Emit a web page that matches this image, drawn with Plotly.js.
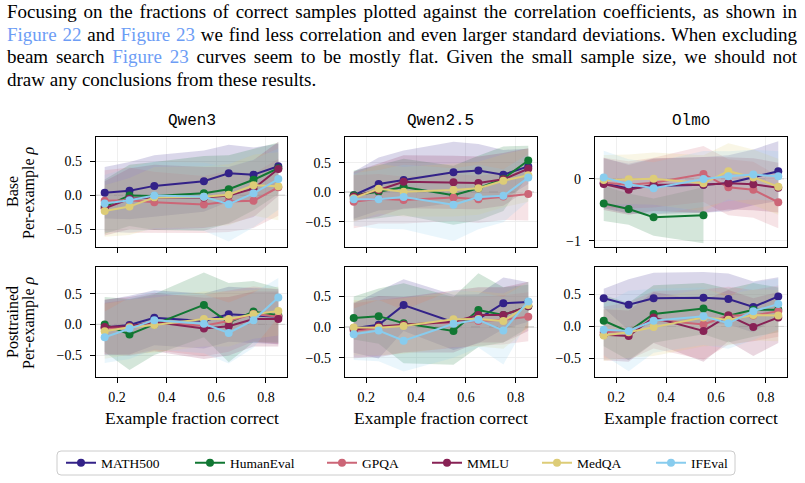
<!DOCTYPE html>
<html><head><meta charset="utf-8">
<script src="https://cdn.plot.ly/plotly-3.0.1.min.js"></script>
<style>
html,body{margin:0;padding:0;background:#fff;}
#wrap{position:relative;width:805px;height:483px;overflow:hidden;background:#fff;}
#chart{position:absolute;left:0;top:0;width:805px;height:483px;}
#para{position:absolute;left:7px;top:1px;width:790px;font-family:"Liberation Serif","Times New Roman",serif;font-size:19px;line-height:22.5px;color:#000;z-index:5;}
#para div{text-align:justify;text-align-last:justify;}
#para div.last{text-align-last:left;}
.ref{color:#6d9df5;}
</style></head>
<body>
<div id="wrap">
<div id="chart"></div>
<div id="para">
<div>Focusing on the fractions of correct samples plotted against the correlation coefficients, as shown in</div>
<div><span class="ref">Figure 22</span> and <span class="ref">Figure 23</span> we find less correlation and even larger standard deviations. When excluding</div>
<div>beam search <span class="ref">Figure 23</span> curves seem to be mostly flat. Given the small sample size, we should not</div>
<div class="last">draw any conclusions from these results.</div>
</div>
</div>
<script>
const fractions = [0.15, 0.25, 0.35, 0.55, 0.65, 0.75, 0.85];
const benchmarks = ['MATH500', 'HumanEval', 'GPQA', 'MMLU', 'MedQA', 'IFEval'];
const colors = ['#332288', '#117733', '#CC6677', '#882255', '#DDCC77', '#88CCEE'];
const models = ['Qwen3', 'Qwen2.5', 'Olmo'];
const stages = ['Base', 'Posttrained'];

// mean per-example rho (rows follow benchmarks order)
const qwen3BaseMean = [
  [0.04, 0.07, 0.14, 0.21, 0.325, 0.305, 0.43],
  [-0.165, 0.0, -0.01, 0.03, 0.09, 0.23, 0.40],
  [-0.08, -0.07, -0.10, -0.135, -0.09, -0.08, 0.12],
  [-0.19, -0.05, -0.03, -0.03, 0.0, 0.10, 0.39],
  [-0.23, -0.165, -0.03, -0.02, 0.01, 0.15, 0.135],
  [-0.12, -0.07, 0.0, -0.02, -0.13, 0.03, 0.24]
];
const qwen25BaseMean = [
  [-0.05, 0.14, 0.21, 0.34, 0.37, 0.30, 0.44],
  [-0.05, 0.01, 0.09, -0.05, 0.07, 0.23, 0.54],
  [-0.16, -0.11, -0.13, -0.09, -0.12, -0.07, -0.03],
  [-0.07, 0.04, 0.18, 0.17, 0.16, 0.22, 0.40],
  [-0.10, 0.06, 0.01, 0.04, 0.07, 0.195, 0.29],
  [-0.12, -0.12, -0.08, -0.21, -0.08, -0.06, 0.25]
];
const olmoBaseMean = [
  [-0.075, -0.16, -0.12, -0.10, -0.075, 0.02, 0.12],
  [-0.40, -0.49, -0.62, -0.59],
  [-0.065, -0.10, -0.065, 0.075, -0.14, -0.18, -0.38],
  [-0.085, -0.18, -0.10, -0.10, -0.075, -0.09, -0.145],
  [-0.02, -0.01, 0.0, -0.075, 0.12, 0.02, -0.13],
  [0.02, -0.09, -0.155, -0.005, 0.04, 0.065, 0.04]
];
const qwen3PostMean = [
  [-0.05, -0.01, 0.11, 0.055, 0.165, 0.14, 0.125],
  [0.0, -0.165, 0.0, 0.32, 0.03, 0.21, 0.15],
  [-0.065, -0.04, 0.03, -0.02, 0.055, 0.17, 0.125],
  [-0.04, -0.03, 0.04, -0.065, -0.03, 0.09, 0.09],
  [-0.11, -0.045, -0.01, 0.09, 0.09, 0.165, 0.22],
  [-0.21, -0.065, 0.07, 0.01, -0.14, 0.07, 0.44]
];
const qwen25PostMean = [
  [-0.015, 0.04, 0.36, 0.08, 0.135, 0.39, 0.41],
  [0.15, 0.18, 0.065, -0.06, 0.28, 0.20, 0.34],
  [-0.06, -0.015, 0.04, 0.08, 0.10, 0.12, 0.17],
  [-0.04, 0.01, 0.04, 0.09, 0.20, 0.20, 0.34],
  [-0.005, -0.01, 0.02, 0.13, 0.135, 0.10, 0.36],
  [-0.115, -0.055, -0.22, 0.055, 0.12, -0.055, 0.42]
];
const olmoPostMean = [
  [0.44, 0.34, 0.44, 0.45, 0.43, 0.305, 0.47],
  [0.09, -0.08, 0.195, 0.28, 0.17, 0.26, 0.26],
  [-0.09, -0.07, 0.105, 0.03, 0.17, 0.17, 0.24],
  [-0.13, -0.15, 0.14, -0.07, 0.17, -0.01, 0.14],
  [-0.14, -0.09, -0.01, 0.14, 0.105, 0.18, 0.17],
  [-0.05, -0.07, 0.09, 0.16, 0.05, 0.24, 0.35]
];

// standard deviation per point (rows follow benchmarks order)
const qwen3BaseStd = [
  [0.38, 0.42, 0.45, 0.45, 0.42, 0.40, 0.33],
  [0.40, 0.45, 0.50, 0.55, 0.50, 0.45, 0.38],
  [0.45, 0.48, 0.45, 0.42, 0.45, 0.40, 0.42],
  [0.40, 0.45, 0.48, 0.45, 0.42, 0.42, 0.40],
  [0.38, 0.42, 0.45, 0.45, 0.45, 0.45, 0.50],
  [0.42, 0.48, 0.50, 0.50, 0.55, 0.50, 0.45]
];
const qwen25BaseStd = [
  [0.40, 0.45, 0.50, 0.52, 0.45, 0.42, 0.30],
  [0.42, 0.45, 0.48, 0.50, 0.55, 0.55, 0.25],
  [0.45, 0.42, 0.40, 0.40, 0.40, 0.40, 0.45],
  [0.42, 0.45, 0.45, 0.45, 0.45, 0.45, 0.35],
  [0.40, 0.42, 0.42, 0.45, 0.45, 0.45, 0.45],
  [0.45, 0.50, 0.55, 0.62, 0.55, 0.45, 0.40]
];
const olmoBaseStd = [
  [0.40, 0.40, 0.45, 0.45, 0.45, 0.45, 0.48],
  [0.28, 0.25, 0.30, 0.45],
  [0.40, 0.38, 0.40, 0.45, 0.45, 0.45, 0.42],
  [0.42, 0.40, 0.42, 0.45, 0.42, 0.42, 0.40],
  [0.40, 0.40, 0.42, 0.45, 0.45, 0.45, 0.45],
  [0.43, 0.40, 0.42, 0.45, 0.40, 0.40, 0.40]
];
const qwen3PostStd = [
  [0.45, 0.48, 0.45, 0.45, 0.45, 0.45, 0.45],
  [0.45, 0.58, 0.50, 0.53, 0.65, 0.50, 0.45],
  [0.42, 0.45, 0.45, 0.50, 0.50, 0.45, 0.45],
  [0.45, 0.48, 0.48, 0.50, 0.48, 0.45, 0.45],
  [0.45, 0.45, 0.45, 0.45, 0.45, 0.40, 0.40],
  [0.42, 0.50, 0.48, 0.48, 0.50, 0.45, 0.32]
];
const qwen25PostStd = [
  [0.40, 0.55, 0.42, 0.45, 0.40, 0.42, 0.32],
  [0.35, 0.45, 0.65, 0.55, 0.60, 0.45, 0.35],
  [0.45, 0.45, 0.45, 0.42, 0.40, 0.40, 0.40],
  [0.45, 0.50, 0.45, 0.50, 0.45, 0.45, 0.40],
  [0.45, 0.45, 0.45, 0.45, 0.45, 0.45, 0.38],
  [0.42, 0.50, 0.50, 0.55, 0.45, 0.55, 0.32]
];
const olmoPostStd = [
  [0.15, 0.40, 0.40, 0.40, 0.40, 0.40, 0.30],
  [0.40, 0.45, 0.45, 0.40, 0.42, 0.42, 0.35],
  [0.40, 0.45, 0.45, 0.55, 0.45, 0.40, 0.40],
  [0.40, 0.40, 0.40, 0.48, 0.40, 0.45, 0.40],
  [0.40, 0.40, 0.45, 0.45, 0.40, 0.40, 0.40],
  [0.40, 0.63, 0.50, 0.45, 0.40, 0.45, 0.40]
];

const meanGrid = [[qwen3BaseMean, qwen25BaseMean, olmoBaseMean], [qwen3PostMean, qwen25PostMean, olmoPostMean]];
const stdGrid = [[qwen3BaseStd, qwen25BaseStd, olmoBaseStd], [qwen3PostStd, qwen25PostStd, olmoPostStd]];

const W = 805, H = 483;
const colPx = [[96, 287], [345, 537], [595, 787]];
const rowPx = [[137, 247], [267, 377]];
const yRanges = [[[-0.76, 0.86], [-0.93, 0.94], [-1.10, 0.67]], [[-0.86, 0.94], [-0.81, 0.98], [-0.79, 0.93]]];

function rgba(hex, a) {
  const n = parseInt(hex.slice(1), 16);
  return 'rgba(' + ((n >> 16) & 255) + ',' + ((n >> 8) & 255) + ',' + (n & 255) + ',' + a + ')';
}

const serif = 'Liberation Serif, Times New Roman, serif';
const bands = [], lines = [];
const layout = {
  width: W, height: H,
  margin: {l: 0, r: 0, t: 0, b: 0},
  paper_bgcolor: '#fff', plot_bgcolor: '#fff',
  showlegend: true,
  annotations: [], shapes: []
};

for (let r = 0; r < 2; r++) {
  for (let c = 0; c < 3; c++) {
    const k = r * 3 + c + 1;
    const xa = k === 1 ? 'x' : 'x' + k;
    const ya = k === 1 ? 'y' : 'y' + k;
    const means = meanGrid[r][c], stds = stdGrid[r][c];
    for (let i = 0; i < benchmarks.length; i++) {
      const m = means[i], s = stds[i];
      const xs = fractions.slice(0, m.length);
      const upper = m.map((v, j) => v + s[j]);
      const lower = m.map((v, j) => v - s[j]);
      bands.push({
        type: 'scatter', mode: 'lines', xaxis: xa, yaxis: ya,
        x: xs.concat(xs.slice().reverse()),
        y: upper.concat(lower.slice().reverse()),
        fill: 'toself', fillcolor: rgba(colors[i], 0.18),
        line: {width: 0, color: rgba(colors[i], 0)},
        hoverinfo: 'skip', showlegend: false
      });
      lines.push({
        type: 'scatter', mode: 'lines+markers', xaxis: xa, yaxis: ya,
        x: xs, y: m, name: benchmarks[i],
        line: {color: colors[i], width: 2},
        marker: {color: colors[i], size: 8},
        showlegend: k === 1,
        legend: i === 0 ? 'legend' : 'legend' + (i + 1)
      });
    }
    const axBase = {
      showline: true, mirror: true, linecolor: '#000', linewidth: 1.2,
      ticks: 'outside', ticklen: 5, tickwidth: 1, tickcolor: '#000',
      showgrid: true, gridcolor: '#ebebeb', gridwidth: 0.8, zeroline: false,
      tickfont: {family: serif, size: 14, color: '#000'}
    };
    layout['xaxis' + (k === 1 ? '' : k)] = Object.assign({}, axBase, {
      domain: [colPx[c][0] / W, colPx[c][1] / W],
      range: [0.115, 0.885], anchor: ya,
      tickvals: [0.2, 0.4, 0.6, 0.8], tickformat: '.1f',
      showticklabels: r === 1, ticklabelstandoff: 2
    });
    const yr = yRanges[r][c];
    layout['yaxis' + (k === 1 ? '' : k)] = Object.assign({}, axBase, {
      domain: [1 - rowPx[r][1] / H, 1 - rowPx[r][0] / H],
      range: yr, anchor: xa,
      dtick: (r === 0 && c === 2) ? 1 : 0.5,
      tickformat: (r === 0 && c === 2) ? 'd' : '.1f',
      ticklabelstandoff: 5
    });
    layout.shapes.push({
      type: 'line', xref: xa + ' domain', yref: ya, x0: 0, x1: 1, y0: 0, y1: 0,
      line: {color: '#7f7f7f', width: 1, dash: 'dash'}, layer: 'below'
    });
    const cx = (colPx[c][0] + colPx[c][1]) / 2 / W;
    if (r === 0) {
      layout.annotations.push({
        xref: 'paper', yref: 'paper', x: cx, y: 1 - 121 / H, text: models[c],
        showarrow: false, xanchor: 'center', yanchor: 'middle',
        font: {family: 'Liberation Mono, Courier New, monospace', size: 16, color: '#000'}
      });
    } else {
      layout.annotations.push({
        xref: 'paper', yref: 'paper', x: cx, y: 1 - 418 / H, text: 'Example fraction correct',
        showarrow: false, xanchor: 'center', yanchor: 'middle',
        font: {family: serif, size: 17.5, color: '#000'}
      });
    }
  }
  const cy = 1 - (rowPx[r][0] + rowPx[r][1]) / 2 / H;
  layout.annotations.push({
    xref: 'paper', yref: 'paper', x: 12 / W, y: cy, text: stages[r], textangle: -90,
    showarrow: false, xanchor: 'center', yanchor: 'middle',
    font: {family: serif, size: 16, color: '#000'}
  });
  layout.annotations.push({
    xref: 'paper', yref: 'paper', x: 29 / W, y: cy, text: 'Per-example <i>ρ</i>', textangle: -90,
    showarrow: false, xanchor: 'center', yanchor: 'middle',
    font: {family: serif, size: 16, color: '#000'}
  });
}

// legend box
const lx0 = 57 / W, lx1 = 735 / W, ly0 = 1 - 475 / H, ly1 = 1 - 451 / H, rx = 4 / W, ry = 4 / H;
layout.shapes.push({
  type: 'path', xref: 'paper', yref: 'paper', layer: 'below',
  path: 'M' + (lx0 + rx) + ',' + ly1 + ' L' + (lx1 - rx) + ',' + ly1 + ' Q' + lx1 + ',' + ly1 + ' ' + lx1 + ',' + (ly1 - ry) +
        ' L' + lx1 + ',' + (ly0 + ry) + ' Q' + lx1 + ',' + ly0 + ' ' + (lx1 - rx) + ',' + ly0 +
        ' L' + (lx0 + rx) + ',' + ly0 + ' Q' + lx0 + ',' + ly0 + ' ' + lx0 + ',' + (ly0 + ry) +
        ' L' + lx0 + ',' + (ly1 - ry) + ' Q' + lx0 + ',' + ly1 + ' ' + (lx0 + rx) + ',' + ly1 + ' Z',
  line: {color: '#cccccc', width: 1}, fillcolor: '#ffffff'
});
const legendX = [61, 190, 322, 427, 537, 651];
for (let i = 0; i < benchmarks.length; i++) {
  layout[i === 0 ? 'legend' : 'legend' + (i + 1)] = {
    x: legendX[i] / W, y: 1 - 463 / H, xanchor: 'left', yanchor: 'middle',
    orientation: 'h', bgcolor: 'rgba(0,0,0,0)', borderwidth: 0,
    font: {family: serif, size: 13.5, color: '#000'}
  };
}

Plotly.newPlot('chart', bands.concat(lines), layout, {displayModeBar: false, staticPlot: true});
</script>
</body></html>
